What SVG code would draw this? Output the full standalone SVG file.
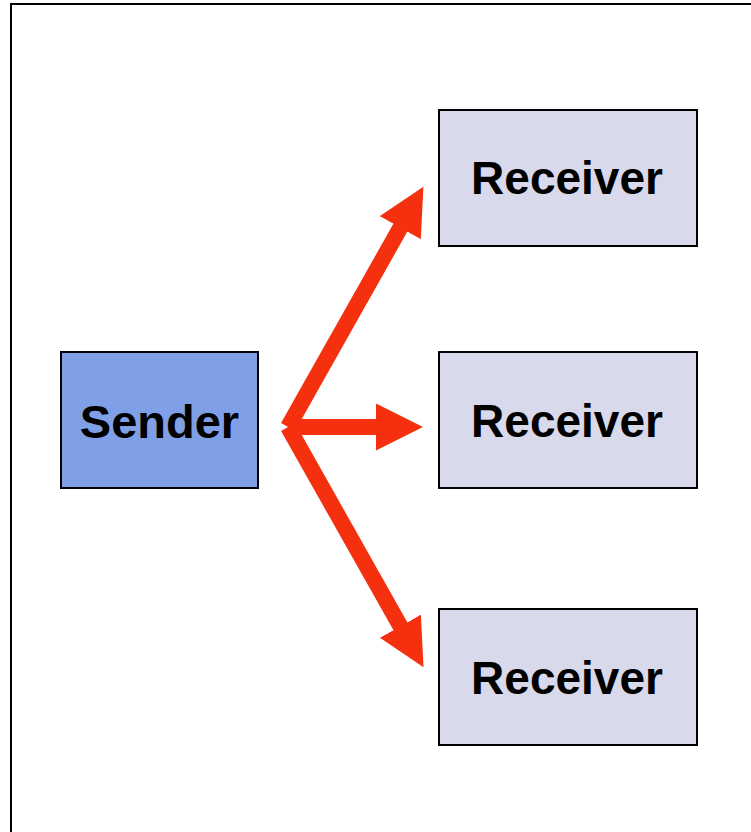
<svg xmlns="http://www.w3.org/2000/svg" width="751" height="832" viewBox="0 0 751 832">
  <style>
    .box { stroke: #000; stroke-width: 2; }
    .sender { fill: #7f9fe6; }
    .receiver { fill: #d9d9ec; }
    .label { font-family: "Liberation Sans", Arial, sans-serif; font-weight: bold; font-size: 46px; fill: #000; text-anchor: middle; }
    .arrow { stroke: #f5300e; stroke-width: 16; fill: none; marker-end: url(#head); }
  </style>
  <defs>
    <marker id="head" markerUnits="userSpaceOnUse" markerWidth="48" markerHeight="48" refX="1" refY="23.5" orient="auto">
      <path d="M0,0 L47,23.5 L0,47 z" fill="#f5300e"/>
    </marker>
  </defs>

  <rect width="751" height="832" fill="#fff"/>
  <!-- page frame -->
  <path d="M11,832 V4 H751" fill="none" stroke="#000" stroke-width="2"/>

  <g id="connectors">
    <line class="arrow" x1="288" y1="427" x2="400.8" y2="226.9"/>
    <line class="arrow" x1="288" y1="427" x2="377" y2="427"/>
    <line class="arrow" x1="288" y1="427" x2="400.9" y2="627.1"/>
  </g>

  <g id="sender">
    <rect class="box sender" x="61" y="352" width="197" height="136"/>
    <text class="label" x="159.5" y="438" style="font-size:47px">Sender</text>
  </g>
  <g id="receiver-top">
    <rect class="box receiver" x="439" y="110" width="258" height="136"/>
    <text class="label" x="567" y="194">Receiver</text>
  </g>
  <g id="receiver-middle">
    <rect class="box receiver" x="439" y="352" width="258" height="136"/>
    <text class="label" x="567" y="437">Receiver</text>
  </g>
  <g id="receiver-bottom">
    <rect class="box receiver" x="439" y="609" width="258" height="136"/>
    <text class="label" x="567" y="694">Receiver</text>
  </g>
</svg>
